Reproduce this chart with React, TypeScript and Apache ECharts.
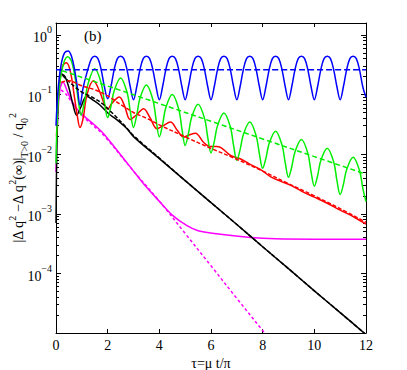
import React, { useEffect, useRef } from "react";
import * as echarts from "echarts";

// tau = mu t / pi
const BLUE_SOLID: [number, number][] = [
  [0, 0.03], [0.08, 0.12], [0.2, 0.32], [0.33, 0.5], [0.47, 0.54], [0.6, 0.44], [0.72, 0.26], [0.82, 0.14], [0.93, 0.066],
  [1.05, 0.13], [1.25, 0.28], [1.375, 0.4], [1.5, 0.44], [1.625, 0.4], [1.75, 0.26], [1.875, 0.135],
  [2, 0.085], [2.125, 0.135], [2.25, 0.26], [2.375, 0.4], [2.5, 0.44], [2.625, 0.4], [2.75, 0.26], [2.875, 0.135],
  [3, 0.082], [3.125, 0.135], [3.25, 0.26], [3.375, 0.4], [3.5, 0.44], [3.625, 0.4], [3.75, 0.26], [3.875, 0.135],
  [4, 0.082], [4.125, 0.135], [4.25, 0.26], [4.375, 0.4], [4.5, 0.44], [4.625, 0.4], [4.75, 0.26], [4.875, 0.135],
  [5, 0.082], [5.125, 0.135], [5.25, 0.26], [5.375, 0.4], [5.5, 0.44], [5.625, 0.4], [5.75, 0.26], [5.875, 0.135],
  [6, 0.082], [6.125, 0.135], [6.25, 0.26], [6.375, 0.4], [6.5, 0.44], [6.625, 0.4], [6.75, 0.26], [6.875, 0.135],
  [7, 0.082], [7.125, 0.135], [7.25, 0.26], [7.375, 0.4], [7.5, 0.44], [7.625, 0.4], [7.75, 0.26], [7.875, 0.135],
  [8, 0.082], [8.125, 0.135], [8.25, 0.26], [8.375, 0.4], [8.5, 0.44], [8.625, 0.4], [8.75, 0.26], [8.875, 0.135],
  [9, 0.082], [9.125, 0.135], [9.25, 0.26], [9.375, 0.4], [9.5, 0.44], [9.625, 0.4], [9.75, 0.26], [9.875, 0.135],
  [10, 0.082], [10.125, 0.135], [10.25, 0.26], [10.375, 0.4], [10.5, 0.44], [10.625, 0.4], [10.75, 0.26], [10.875, 0.135],
  [11, 0.082], [11.125, 0.135], [11.25, 0.26], [11.375, 0.4], [11.5, 0.44], [11.625, 0.4], [11.75, 0.26], [11.875, 0.135],
  [12, 0.09],
];
const BLUE_DASHED: [number, number][] = [[0, 0.26], [12, 0.26]];

const GREEN_SOLID: [number, number][] = [
  [0, 0.007], [0.05, 0.04], [0.15, 0.16], [0.3, 0.34], [0.45, 0.43], [0.6, 0.36], [0.75, 0.18], [0.87, 0.075], [0.97, 0.045],
  [1.1, 0.075], [1.25, 0.157], [1.5, 0.27], [1.75, 0.155], [1.875, 0.074],
  [2, 0.041], [2.125, 0.063], [2.25, 0.115], [2.5, 0.19], [2.75, 0.109], [2.875, 0.052],
  [3, 0.028], [3.125, 0.045], [3.25, 0.0865], [3.5, 0.145], [3.75, 0.082], [3.875, 0.038],
  [4, 0.0195], [4.125, 0.0313], [4.25, 0.06], [4.5, 0.1], [4.75, 0.057], [4.875, 0.0266],
  [5, 0.014], [5.125, 0.022], [5.25, 0.0415], [5.5, 0.069], [5.75, 0.0398], [5.875, 0.019],
  [6, 0.0105], [6.125, 0.0161], [6.25, 0.0298], [6.5, 0.049], [6.75, 0.0285], [6.875, 0.0139],
  [7, 0.0079], [7.125, 0.0118], [7.25, 0.0212], [7.5, 0.0345], [7.75, 0.0202], [7.875, 0.01],
  [8, 0.0058], [8.125, 0.0085], [8.25, 0.0151], [8.5, 0.0243], [8.75, 0.0142], [8.875, 0.0071],
  [9, 0.0041], [9.125, 0.0061], [9.25, 0.0109], [9.5, 0.0176], [9.75, 0.0103], [9.875, 0.005],
  [10, 0.0029], [10.125, 0.0043], [10.25, 0.0078], [10.5, 0.0126], [10.75, 0.0074], [10.875, 0.0036],
  [11, 0.0021], [11.125, 0.0031], [11.25, 0.0055], [11.5, 0.0089], [11.75, 0.0053], [11.875, 0.0027],
  [12, 0.0016],
];
const GREEN_DASHED: [number, number][] = [
  [0.25, 0.25], [2, 0.139], [4, 0.0705], [6, 0.0356], [8, 0.018], [10, 0.0091], [12, 0.0046],
];

const RED_SOLID: [number, number][] = [
  [0.02, 0.02], [0.1, 0.1], [0.25, 0.3], [0.4, 0.34], [0.55, 0.25], [0.7, 0.1], [0.82, 0.045], [0.93, 0.028],
  [1.05, 0.04], [1.2, 0.1], [1.45, 0.17], [1.7, 0.11], [1.9, 0.064], [2.0, 0.057], [2.15, 0.07], [2.45, 0.091],
  [2.65, 0.065], [2.87, 0.038], [3.1, 0.045], [3.39, 0.058], [3.65, 0.04], [3.91, 0.0267], [4.15, 0.03],
  [4.43, 0.0345], [4.7, 0.025], [4.94, 0.0193], [5.15, 0.021], [5.4, 0.0225], [5.7, 0.016], [5.98, 0.0134],
  [6.2, 0.0135], [6.4, 0.0128], [6.76, 0.0095], [7.15, 0.0083], [7.5, 0.0068], [7.92, 0.0055], [8.3, 0.0042],
  [8.7, 0.0035], [9.09, 0.003], [9.5, 0.0024], [10, 0.0019], [10.5, 0.0015], [11, 0.00115], [11.5, 0.0009],
  [12, 0.00067],
];
const RED_DASHED: [number, number][] = [
  [0.2, 0.16], [0.5, 0.17], [1, 0.14], [1.5, 0.12], [2, 0.095], [2.5, 0.068], [3, 0.05], [3.5, 0.04], [4, 0.031],
  [5, 0.0195], [6, 0.0125], [7, 0.0082], [8, 0.0052], [9, 0.0032], [10, 0.002], [11, 0.00122], [12, 0.00072],
];

const BLACK_SOLID: [number, number][] = [
  [0, 0.0007], [0.03, 0.01], [0.1, 0.1], [0.22, 0.22], [0.35, 0.2], [0.5, 0.13], [0.65, 0.07], [0.8, 0.045],
  [0.95, 0.06], [1.19, 0.094], [1.45, 0.08], [1.71, 0.066], [2.03, 0.048], [2.35, 0.038], [2.74, 0.027],
  [3, 0.0197], [4, 0.0084], [5, 0.0036], [6, 0.00154], [7, 0.00066], [8, 0.00028], [9, 0.00012],
  [10, 5.1e-5], [11, 2.2e-5], [12, 9.4e-6],
];
const BLACK_DASHED: [number, number][] = [
  [0.25, 0.21], [0.6, 0.15], [1.0, 0.11], [1.4, 0.09], [1.8, 0.07], [2.2, 0.048], [2.6, 0.032], [3, 0.0205],
  [4, 0.0086], [5, 0.0036], [6, 0.00154], [7, 0.00066], [8, 0.00028], [9, 0.00012], [10, 5.1e-5], [11, 2.2e-5],
  [12, 9.4e-6],
];

const MAGENTA_SOLID: [number, number][] = [
  [0, 0.005], [0.05, 0.03], [0.15, 0.12], [0.27, 0.16], [0.45, 0.11], [0.6, 0.08], [0.8, 0.058], [1.1, 0.043],
  [1.45, 0.032], [1.84, 0.022], [2.5, 0.0098], [3.03, 0.005], [3.5, 0.0028], [4.04, 0.00155], [4.5, 0.00095],
  [5.07, 0.00063], [5.5, 0.00052], [6.37, 0.000453], [7.53, 0.0004], [8.5, 0.00038], [10, 0.000375],
  [12, 0.000375],
];
const MAGENTA_DASHED: [number, number][] = [
  [0.2, 0.12], [0.4, 0.1], [0.7, 0.065], [1.0, 0.045], [1.45, 0.03], [1.84, 0.021], [3, 0.0052], [4, 0.00163],
  [5, 0.000467], [6, 0.000134], [7, 3.8e-5], [8, 1.1e-5], [8.3, 7.6e-6],
];

const X_MIN = 0;
const X_MAX = 12;
const X_STEP = 2;
const Y_DECADES = [-5, -4, -3, -2, -1, 0];
const Y_LABEL_DECADES = [-4, -3, -2, -1, 0];
const Y_MINOR_MULT = [2, 3, 4, 5, 6, 7, 8, 9];
const Y_MIN = 1e-5;
const Y_MAX = Math.pow(10, 0.2);

const FONT = "Liberation Serif";
const Y_TITLE = "{t||Δ q}{sp|2}{t| −Δ q}{sp|2}{t|(∞)|}{sb|T>0}{t| / q}{sb|0}{sp|2}";
const X_TITLE = "τ=μ t/π";
const PANEL_TAG = "(b)";

export default function App() {
  const ref = useRef<HTMLDivElement>(null);
  useEffect(() => {
    const chart = echarts.init(ref.current!, null, { renderer: "svg" });
    const major = Y_DECADES.map((d) => Math.pow(10, d));
    const minor: number[] = [];
    Y_DECADES.forEach((d) =>
      Y_MINOR_MULT.forEach((m) => {
        const v = m * Math.pow(10, d);
        if (v < Y_MAX) minor.push(v);
      })
    );
    const labelVals = Y_LABEL_DECADES.map((d) => Math.pow(10, d));
    const lineCol = { color: "#000", width: 1 };
    const yBase = {
      type: "log" as const,
      logBase: 10,
      min: Y_MIN,
      max: Y_MAX,
      splitLine: { show: false },
      axisLine: { show: true, lineStyle: lineCol },
    };
    const supRich = {
      b: { fontFamily: FONT, fontSize: 14, color: "#000", lineHeight: 20, verticalAlign: "bottom" },
      s: { fontFamily: FONT, fontSize: 10, color: "#000", lineHeight: 20, verticalAlign: "top" },
    };
    const mk = (data: [number, number][], color: string, dashed?: number[], z = 2) => ({
      type: "line",
      data,
      showSymbol: false,
      smooth: 0.35,
      clip: true,
      z,
      lineStyle: { color, width: 1.5, type: dashed ? dashed : "solid" },
      emphasis: { disabled: true },
    });
    chart.setOption({
      animation: false,
      backgroundColor: "#fff",
      grid: { left: 56, right: 41, top: 23, bottom: 37, containLabel: false, outerBoundsMode: "none" },
      xAxis: [
        {
          type: "value",
          min: X_MIN,
          max: X_MAX,
          interval: X_STEP,
          position: "bottom",
          axisLine: { lineStyle: lineCol },
          axisTick: { inside: true, length: 4, lineStyle: lineCol },
          axisLabel: { fontFamily: FONT, fontSize: 14, color: "#000", margin: 5 },
          splitLine: { show: false },
          name: X_TITLE,
          nameLocation: "middle",
          nameGap: 20,
          nameTextStyle: { fontFamily: FONT, fontSize: 14, color: "#000", verticalAlign: "top" },
        },
        {
          type: "value",
          min: X_MIN,
          max: X_MAX,
          interval: X_STEP,
          position: "top",
          axisLine: { lineStyle: lineCol },
          axisTick: { inside: true, length: 4, lineStyle: lineCol },
          axisLabel: { show: false },
          splitLine: { show: false },
        },
      ],
      yAxis: [
        {
          ...yBase,
          position: "left",
          axisTick: { inside: true, length: 5, lineStyle: lineCol, customValues: major },
          axisLabel: {
            customValues: labelVals,
            margin: 4,
            formatter: (v: number) => {
              const e = Math.round(Math.log10(v));
              return `{b|10}{s|${e < 0 ? "−" + -e : e}}`;
            },
            rich: supRich,
          },
        },
        {
          ...yBase,
          position: "left",
          axisLine: { show: false },
          axisTick: { inside: true, length: 3, lineStyle: lineCol, customValues: minor },
          axisLabel: { show: false },
        },
        {
          ...yBase,
          position: "right",
          axisTick: { inside: true, length: 5, lineStyle: lineCol, customValues: major },
          axisLabel: { show: false },
        },
        {
          ...yBase,
          position: "right",
          axisLine: { show: false },
          axisTick: { inside: true, length: 3, lineStyle: lineCol, customValues: minor },
          axisLabel: { show: false },
        },
      ],
      graphic: [
        {
          type: "text",
          left: 84,
          top: 28,
          style: { text: PANEL_TAG, fontFamily: FONT, fontSize: 15, fill: "#000" },
        },
        {
          type: "text",
          x: 18,
          y: 178,
          rotation: Math.PI / 2,
          style: {
            text: Y_TITLE,
            align: "center",
            verticalAlign: "middle",
            rich: {
              t: { fontFamily: FONT, fontSize: 14, fill: "#000", lineHeight: 22, verticalAlign: "middle" },
              sp: { fontFamily: FONT, fontSize: 10, fill: "#000", lineHeight: 22, verticalAlign: "top" },
              sb: { fontFamily: FONT, fontSize: 10, fill: "#000", lineHeight: 22, verticalAlign: "bottom" },
            },
          },
        },
      ],
      series: [
        mk(MAGENTA_DASHED, "#ff00ff", [3, 2.5], 2),
        mk(MAGENTA_SOLID, "#ff00ff", undefined, 3),
        mk(BLACK_SOLID, "#000000", undefined, 3),
        mk(BLACK_DASHED, "#000000", [4, 2], 4),
        mk(RED_SOLID, "#ff0000", undefined, 3),
        mk(RED_DASHED, "#ff0000", [4, 2], 4),
        mk(GREEN_SOLID, "#00ee00", undefined, 3),
        mk(GREEN_DASHED, "#00ee00", [5, 3], 4),
        mk(BLUE_SOLID, "#0000ff", undefined, 3),
        mk(BLUE_DASHED, "#0000ff", [6, 3], 4),
      ],
    });
    return () => chart.dispose();
  }, []);
  return (
    <div
      ref={ref}
      style={{ position: "fixed", left: 0, top: 0, width: 407, height: 370, background: "#fff" }}
    />
  );
}
